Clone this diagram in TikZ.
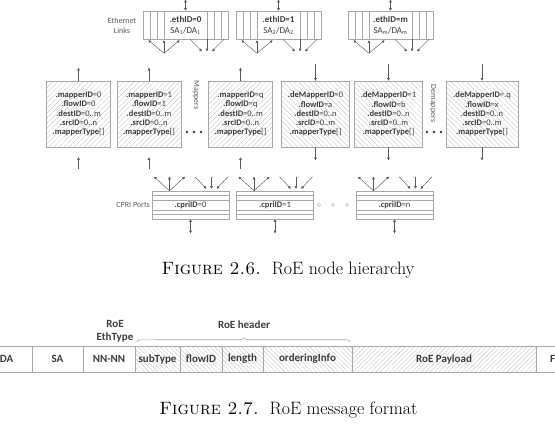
\documentclass[tikz,border=0pt]{standalone}
\usepackage{fontspec}
\newfontfamily\carlito{Carlito}
\usetikzlibrary{arrows.meta,patterns.meta,decorations.pathreplacing,calc}
\definecolor{txt}{HTML}{3C3C3C}
\definecolor{lblgray}{HTML}{5A5A5A}
\definecolor{edgegray}{HTML}{A8A8A8}
\definecolor{hatch}{HTML}{CACACA}
\tikzset{
	>={Triangle[length=2.6pt,width=2.6pt]},
	arr/.style={draw=black!65, line width=0.45pt},
	box/.style={draw=edgegray, line width=0.55pt, inner sep=0pt, text=txt, align=center},
	ethbox/.style={box, minimum width=85pt, minimum height=28pt, font=\carlito\fontsize{9}{11}\selectfont},
	mapbox/.style={box, minimum width=64pt, minimum height=66pt, font=\carlito\fontsize{8.5}{9.2}\selectfont, pattern={Lines[angle=45,distance=3.6pt,line width=0.4pt]}, pattern color=hatch},
	demapbox/.style={mapbox, minimum width=68pt, pattern={Lines[angle=-45,distance=3.6pt,line width=0.4pt]}},
	cpribox/.style={box, minimum width=77pt, minimum height=28pt, font=\carlito\fontsize{8.5}{10}\selectfont},
	lbl/.style={text=lblgray, font=\carlito\fontsize{8}{10}\selectfont, align=center, inner sep=0pt},
	fld/.style={box, minimum height=26pt, font=\carlito\bfseries\fontsize{11}{13}\selectfont},
	hdr/.style={fld, pattern={Lines[angle=-45,distance=3.2pt,line width=0.4pt]}, pattern color=hatch},
	hdrlbl/.style={text=txt, font=\carlito\bfseries\fontsize{11}{13}\selectfont, align=center, inner sep=0pt},
	figcap/.style={font=\fontsize{17.9}{21}\selectfont, anchor=base, inner sep=0pt},
}
\begin{document}
\begin{tikzpicture}[x=1pt,y=-1pt]
	\useasboundingbox (0,0) rectangle (555,440);
	\clip (0,0) rectangle (555,440);
	\node	(e0) at (185.5,25) [ethbox] {\textbf{.ethID=0}\\SA\textsubscript{1}/DA\textsubscript{1}};
	\node	(e1) at (278.5,25) [ethbox] {\textbf{.ethID=1}\\SA\textsubscript{2}/DA\textsubscript{2}};
	\node	(em) at (390.5,25) [ethbox] {\textbf{.ethID=m}\\SA\textsubscript{m}/DA\textsubscript{m}};
	\node	(eth) at (122,26) [lbl] {Ethernet\\Links};
	\node	(m0) at (78.5,114) [mapbox] {\textbf{.mapperID}=0\\\textbf{.flowID}=0\\\textbf{.destID}=0..m\\\textbf{.srcID}=0..n\\\textbf{.mapperType}[]};
	\node	(m1) at (149,114) [mapbox] {\textbf{.mapperID}=1\\\textbf{.flowID}=1\\\textbf{.destID}=0..m\\\textbf{.srcID}=0..n\\\textbf{.mapperType}[]};
	\node	(mq) at (240.5,114) [mapbox] {\textbf{.mapperID}=q\\\textbf{.flowID}=q\\\textbf{.destID}=0..m\\\textbf{.srcID}=0..n\\\textbf{.mapperType}[]};
	\node	(d0) at (315.5,114) [demapbox] {\textbf{.deMapperID}=0\\\textbf{.flowID}=a\\\textbf{.destID}=0..n\\\textbf{.srcID}=0..m\\\textbf{.mapperType}[]};
	\node	(d1) at (388.5,114) [demapbox] {\textbf{.deMapperID}=1\\\textbf{.flowID}=b\\\textbf{.destID}=0..n\\\textbf{.srcID}=0..m\\\textbf{.mapperType}[]};
	\node	(dq) at (482,114) [demapbox, minimum width=72pt] {\textbf{.deMapperID}=.q\\\textbf{.flowID}=x\\\textbf{.destID}=0..n\\\textbf{.srcID}=0..m\\\textbf{.mapperType}[]};
	\node	(map) at (196,95) [lbl, rotate=-90] {Mappers};
	\node	(demap) at (433,103.5) [lbl, rotate=-90] {Demappers};
	\node	(c0) at (190.5,205) [cpribox] {\textbf{.cpriID}=0};
	\node	(c1) at (275,205) [cpribox] {\textbf{.cpriID}=1};
	\node	(cn) at (394.5,205) [cpribox] {\textbf{.cpriID}=n};
	\node	(cpri) at (150,205) [lbl, anchor=east] {CPRI Ports};
	\foreach \n in {e0,e1,em}
		\foreach \k in {1,2,3,9,10,11}
			\draw[edgegray, line width=0.5pt] ($(\n.north west)!\k/12!(\n.north east)$) -- ($(\n.south west)!\k/12!(\n.south east)$);
	\foreach \n in {c0,c1,cn}
		\foreach \k in {1,2,4,5}
			\draw[edgegray, line width=0.5pt] ($(\n.north west)!\k/6!(\n.south west)$) -- ($(\n.north east)!\k/6!(\n.south east)$);
	\foreach \n in {e0,e1,em} {
		\foreach \dx in {-15.5,0,15.5} {
			\draw[arr,->] ([shift={(-21.5,14)}]\n.south) -- ([shift={({-21.5+\dx},1)}]\n.south);
			\draw[arr,->] ([shift={({21.5+1.1*\dx},0)}]\n.south) -- ([shift={({21.5+\dx/3},12)}]\n.south);
		}
		\draw[arr,<->] (\n.north) -- ++(0,-11);
	}
	\foreach \n in {m0,m1,mq} {
		\draw[arr,->] (\n.north) -- ++(0,-13);
		\draw[arr,<-,shorten <=10pt] (\n.south) -- ++(0,22);
	}
	\foreach \n in {d0,d1,dq} {
		\draw[arr,<-] (\n.north) -- ++(0,-17);
		\draw[arr,->] (\n.south) -- ++(0,13);
	}
	\foreach \n in {c0,c1,cn} {
		\foreach \dx in {-15.5,0,15.5} {
			\draw[arr,->] ([xshift=-21pt]\n.north) -- ([shift={({-21+\dx},-14)}]\n.north);
			\draw[arr,->] ([shift={({21+1.06*\dx},-14)}]\n.north) -- ([shift={({21+\dx/3},-2)}]\n.north);
		}
		\draw[arr,<->] (\n.south) -- ++(0,14);
	}
	\foreach \i in {0,1,2} {
		\fill[txt] (187+7*\i,132) circle (1.3pt);
		\fill[txt] (427+7*\i,132) circle (1.3pt);
		\draw[edgegray] (319+14*\i,205) circle (1.6pt);
	}
	\node	(f1) at (288,274) [figcap] {\textsc{Figure 2.6.}\ \ RoE node hierarchy};
	\node	(da) at (6.5,359) [fld, minimum width=51pt] {DA};
	\node	(sa) at (57.5,359) [fld, minimum width=51pt] {SA};
	\node	(nn) at (109,359) [fld, minimum width=52pt] {NN-NN};
	\node	(sub) at (157.5,359) [hdr, minimum width=45pt] {subType};
	\node	(flow) at (201,359) [hdr, minimum width=42pt] {flowID};
	\node	(len) at (242.5,359) [hdr, minimum width=41pt] {length};
	\node	(ord) at (307.5,359) [hdr, minimum width=89pt] {orderingInfo};
	\node	(pay) at (444,359) [fld, minimum width=184pt, pattern={Lines[angle=45,distance=3.2pt,line width=0.4pt]}, pattern color=hatch] {RoE Payload};
	\node	(fcs) at (558,359) [fld, minimum width=44pt] {FCS};
	\node	(ethtype) at (115,331.5) [hdrlbl] {RoE\\EthType};
	\node	(roehdr) at (244,325) [hdrlbl] {RoE header};
	\draw[edgegray, line width=0.6pt, decorate, decoration={brace, amplitude=4pt}] ([shift={(2,-4)}]sub.north west) -- ([shift={(-2,-4)}]ord.north east);
	\node	(f2) at (288.5,414) [figcap] {\textsc{Figure 2.7.}\ \ RoE message format};
\end{tikzpicture}
\end{document}
